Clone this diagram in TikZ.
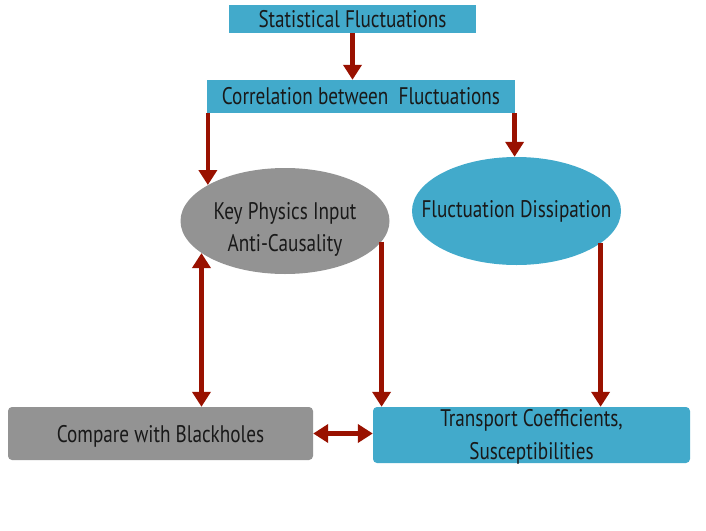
\documentclass[tikz,border=0pt]{standalone}
\usepackage{fontspec}
\setmainfont{PT Sans}[FakeStretch=0.80]
\usepackage{tikz}
\usetikzlibrary{arrows.meta,positioning,shapes.geometric}
\definecolor{skyteal}{RGB}{66,170,203}
\definecolor{midgrey}{RGB}{147,147,147}
\definecolor{darkred}{RGB}{153,17,0}
\definecolor{inkblack}{RGB}{25,25,25}
\tikzset{
  base/.style={font=\fontsize{24}{28}\selectfont, align=center, inner sep=2pt, text=inkblack},
  tbox/.style={base, rectangle, fill=skyteal, draw=none},
  rbox/.style={base, rectangle, rounded corners=4pt, draw=none},
  oval/.style={base, ellipse, draw=none, inner sep=-40pt},
  arr/.style={-{Triangle[length=15pt,width=18pt]}, line width=4.5pt, draw=darkred},
  arr2/.style={arr, {Triangle[length=15pt,width=18pt]}-{Triangle[length=15pt,width=18pt]}},
}
\begin{document}
\begin{tikzpicture}[x=1pt,y=-1pt]
  \useasboundingbox (0,0) rectangle (706,530);
  % top chain
  \node[tbox,minimum width=247pt,minimum height=28pt] (stat) at (352.5,19) {Statistical Fluctuations};
  \node[tbox,minimum width=308pt,minimum height=33pt] (corr) at (361,96.5) {Correlation between\ \ Fluctuations};
  % ellipses
  \node[oval,fill=midgrey,minimum width=209pt,minimum height=106pt,
        label={[base,yshift=-8pt]center:Key Physics Input\\[4pt]Anti-Causality}] (key) at (285,221) {};
  \node[oval,fill=skyteal,minimum width=209pt,minimum height=108pt] (fd) at (516.5,211) {Fluctuation Dissipation};
  % bottom boxes
  \node[rbox,fill=midgrey,minimum width=305pt,minimum height=53pt,text depth=0pt] (cmp) at (160.5,433.5) {Compare with Blackholes};
  \node[rbox,fill=skyteal,minimum width=317pt,minimum height=56pt,
        label={[base,yshift=-2pt]center:Transport Coefficients,\\[5pt]Susceptibilities}] (tc) at (531.5,435) {};
  % arrows
  \draw[arr] (stat.south) -- (corr.north -| stat.south);
  \draw[arr] (corr.south -| key.155) -- (key.155);
  \draw[arr] (corr.south -| fd.92) -- (fd.92);
  \draw[arr] (key.-12) -- (key.-12 |- tc.north);
  \draw[arr] (fd.-21) -- (fd.-21 |- tc.north);
  \draw[arr2] (key.201) -- (key.201 |- cmp.north);
  \draw[arr2] (cmp.east) -- (cmp.east -| tc.west);
\end{tikzpicture}
\end{document}
